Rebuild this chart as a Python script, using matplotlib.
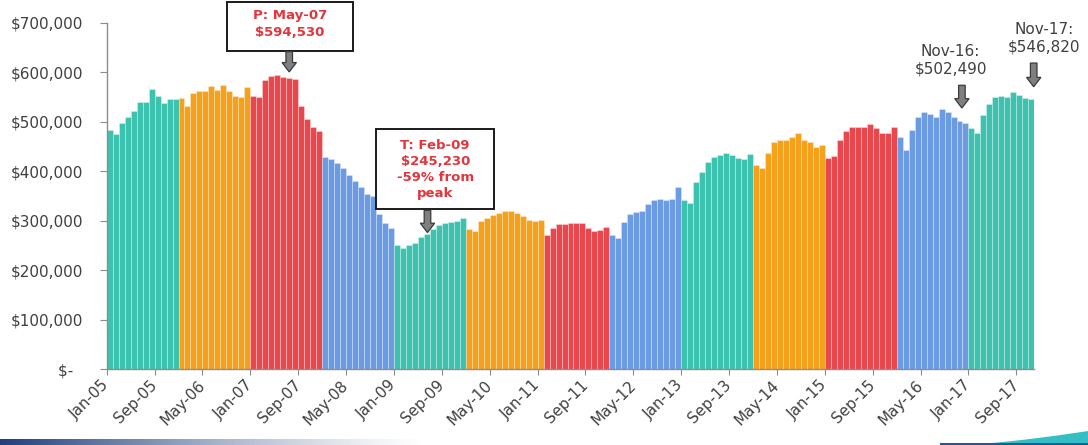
import numpy as np
import matplotlib
matplotlib.use("Agg")
import matplotlib.pyplot as plt
from matplotlib.patches import FancyArrow, Rectangle, Polygon

# Median sale price by month, in thousands of dollars
prices_2005 = [484, 476, 497, 510, 522, 540, 540, 567, 552, 539, 546, 546]
prices_2006 = [549, 533, 558, 563, 563, 573, 565, 575, 562, 552, 551, 570]
prices_2007 = [553, 550, 585, 593, 594.53, 590, 588, 587, 532, 505, 490, 481]
prices_2008 = [428, 424, 416, 406, 392, 381, 368, 354, 350, 314, 296, 286]
prices_2009 = [251, 245.23, 250, 254, 267, 274, 283, 291, 295, 297, 300, 306]
prices_2010 = [283, 279, 300, 306, 312, 316, 319, 320, 315, 309, 302, 300]
prices_2011 = [302, 271, 286, 293, 294, 296, 296, 295, 286, 279, 281, 287]
prices_2012 = [271, 266, 297, 313, 317, 320, 333, 342, 343, 342, 343, 368]
prices_2013 = [342, 335, 378, 399, 419, 428, 433, 438, 433, 426, 424, 435]
prices_2014 = [413, 406, 436, 460, 463, 463, 470, 478, 463, 460, 450, 453]
prices_2015 = [426, 430, 463, 482, 490, 490, 490, 496, 487, 478, 478, 490]
prices_2016 = [470, 443, 484, 509, 519, 516, 510, 525, 519, 510, 502.49, 497]
prices_2017 = [487, 478, 514, 537, 550, 552, 551, 561, 554, 548, 546.82]

yearly = [prices_2005, prices_2006, prices_2007, prices_2008, prices_2009,
          prices_2010, prices_2011, prices_2012, prices_2013, prices_2014,
          prices_2015, prices_2016, prices_2017]
prices = np.array([v for yr in yearly for v in yr]) * 1000.0

# Length of each coloured run of bars
color_runs = [12, 12, 12, 12, 12, 13, 11, 12, 12, 12, 12, 12, 11]
palette = ["#3EC2B0", "#F6A11B", "#E8474D", "#6B9BE2"]

tick_labels = ["Jan-05", "Sep-05", "May-06", "Jan-07", "Sep-07", "May-08",
               "Jan-09", "Sep-09", "May-10", "Jan-11", "Sep-11", "May-12",
               "Jan-13", "Sep-13", "May-14", "Jan-15", "Sep-15", "May-16",
               "Jan-17", "Sep-17"]
tick_step = 8

y_ticks = [0, 100000, 200000, 300000, 400000, 500000, 600000, 700000]

peak_label = "P: May-07\n$594,530"
trough_label = "T: Feb-09\n$245,230\n-59% from\npeak"
nov16_label = "Nov-16:\n$502,490"
nov17_label = "Nov-17:\n$546,820"

plt.rcParams["font.family"] = ["DejaVu Sans"]

W, H = 1088, 445
fig = plt.figure(figsize=(W / 100, H / 100), dpi=100)
fig.patch.set_facecolor("white")

# Slide decoration along the bottom edge
deco = fig.add_axes([0, 0, 1, 1], zorder=0)
deco.set_xlim(0, W)
deco.set_ylim(H, 0)
deco.axis("off")
grad = np.zeros((1, 256, 4))
grad[..., :3] = matplotlib.colors.to_rgb("#1E3F7A")
grad[..., 3] = np.linspace(1, 0, 256) ** 1.3
deco.imshow(grad, extent=[0, 430, H, H - 6], aspect="auto", interpolation="bilinear")
xs = np.linspace(960, W, 60)
top = H - 14 * ((xs - 960) / (W - 960)) ** 1.4
swoosh = np.column_stack([np.concatenate([xs, xs[::-1]]),
                          np.concatenate([top, np.full_like(xs, H)])])
deco.add_patch(Polygon(swoosh, closed=True, fc="#33BFC3", ec="none"))
deco.add_patch(Rectangle((940, H - 2), W - 940, 2, fc="#1E5A9A", ec="none"))

# Main chart
ax = fig.add_axes([106.7 / W, (H - 369) / H, 927.6 / W, 346 / H], zorder=1)
ax.patch.set_alpha(0)

bar_colors = []
for k, n in enumerate(color_runs):
    bar_colors += [palette[k % len(palette)]] * n

x = np.arange(len(prices)) + 0.5
ax.bar(x, prices, width=1.0, color=bar_colors,
       edgecolor=(1, 1, 1, 0.35), linewidth=0.6)

ax.set_xlim(0, len(prices))
ax.set_ylim(0, 700000)

ax.set_yticks(y_ticks)
ax.set_yticklabels(["$-  "] + [f"${v:,}" for v in y_ticks[1:]])
ax.set_xticks(np.arange(0, len(prices), tick_step)[:len(tick_labels)])
ax.set_xticklabels(tick_labels, rotation=45, ha="right", va="center",
                   rotation_mode="anchor")

for s in ("top", "right"):
    ax.spines[s].set_visible(False)
for s in ("left", "bottom"):
    ax.spines[s].set_color("#8C8C8C")
    ax.spines[s].set_linewidth(1.0)
ax.tick_params(axis="y", length=5, color="#8C8C8C", labelsize=11,
               labelcolor="#404040", pad=12)
ax.tick_params(axis="x", length=4, color="#8C8C8C", labelsize=11,
               labelcolor="#404040", pad=6)

red_text = "#E2353C"


def down_arrow(xc, y_top, y_tip):
    ax.add_patch(FancyArrow(xc, y_top, 0, y_tip - y_top, width=1.1,
                            head_width=2.4, head_length=19000,
                            length_includes_head=True, fc="#7F7F7F",
                            ec="#3A3A3A", lw=0.9, clip_on=False, zorder=5))


# Peak call-out
ax.add_patch(Rectangle((20.1, 644000), 21.0, 98500, fc="white", ec="#1A1A1A",
                       lw=1.4, clip_on=False, zorder=4))
ax.text(30.6, 698000, peak_label, ha="center", va="center", color=red_text,
        fontsize=9.5, fontweight="bold", linespacing=1.35, zorder=6)
down_arrow(30.5, 642000, 601000)

# Trough call-out
ax.add_patch(Rectangle((45.0, 323000), 19.8, 162500, fc="white", ec="#1A1A1A",
                       lw=1.4, clip_on=False, zorder=4))
ax.text(54.9, 404000, trough_label, ha="center", va="center", color=red_text,
        fontsize=9.5, fontweight="bold", linespacing=1.3, zorder=6)
down_arrow(53.6, 321000, 276000)

# Recent-year markers
ax.text(141.0, 625000, nov16_label, ha="center", va="center", color="#404040",
        fontsize=11, linespacing=1.2, clip_on=False)
down_arrow(142.9, 574000, 528000)
ax.text(156.6, 670000, nov17_label, ha="center", va="center", color="#404040",
        fontsize=11, linespacing=1.2, clip_on=False)
down_arrow(154.9, 619000, 571000)

fig.savefig("out.png", dpi=100, facecolor="white")
